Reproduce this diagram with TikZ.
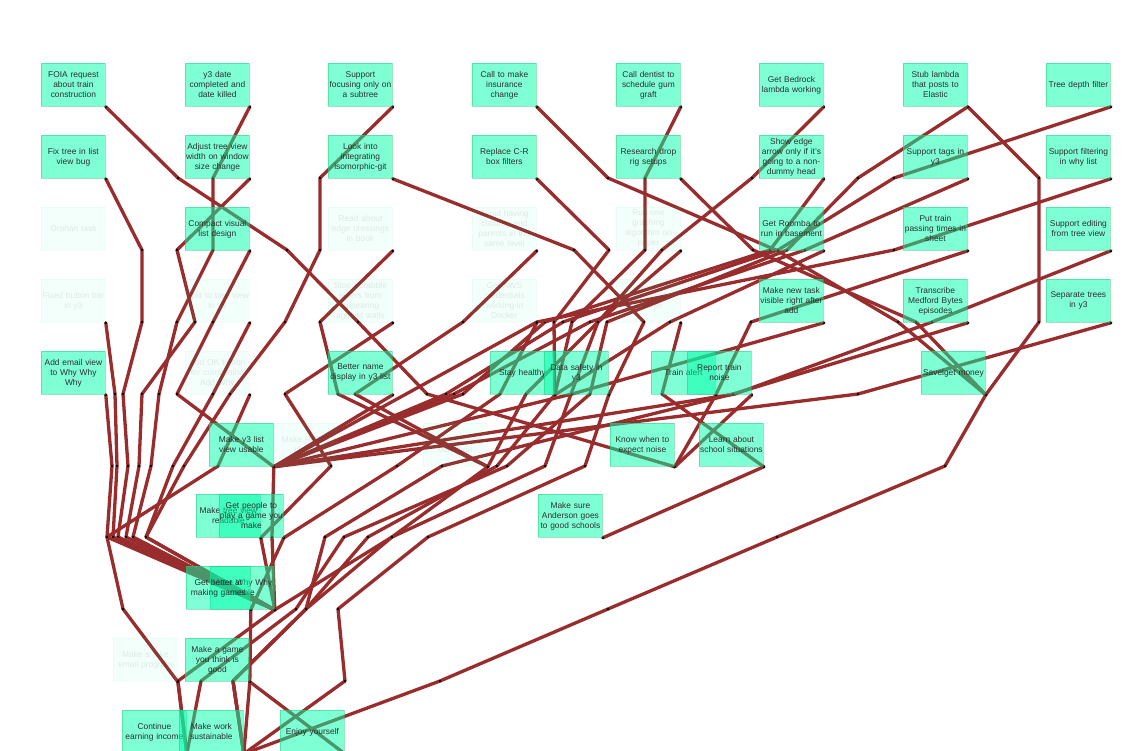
\documentclass[tikz,border=0pt]{standalone}
\usepackage{fontspec}
\setmainfont{Liberation Sans}
\pgfdeclarelayer{back}
\pgfdeclarelayer{bg}
\pgfsetlayers{back,bg,main}
\definecolor{edgec}{RGB}{153,44,44}
\definecolor{boxc}{RGB}{0,255,170}
\definecolor{boxd}{RGB}{30,200,120}
\definecolor{txt}{RGB}{45,45,45}
\tikzset{
 box/.style={anchor=north west, minimum width=64pt, minimum height=43pt, text width=72pt, inner xsep=-4pt, inner ysep=0pt, align=center, fill=boxc, fill opacity=0.5, draw=boxd, draw opacity=0.45, line width=0.8pt, text opacity=1, text=txt, font=\fontsize{8.4}{10}\selectfont},
 faded/.style={box, fill opacity=0.05, draw opacity=0.05, text opacity=0.1},
 edge/.style={draw=edgec, line width=3.3pt, line cap=round, line join=round},
}
\newcommand\edg[3]{%
 \draw[edge] (#1.south east) \foreach \x/\y in {#2}{ -- (\x,-\y) } -- (#3.south east);
 \foreach \x/\y in {#2}{\fill[black] (\x,-\y) circle[radius=1.4pt];}
 \fill[black] (#1.south east) circle[radius=1.4pt];
 \fill[black] (#3.south east) circle[radius=1.4pt];}
\newcommand\edgd[2]{%
 \draw[edge] (#1.south east) -- (#2.south east);
 \fill[black] (#1.south east) circle[radius=1.4pt];
 \fill[black] (#2.south east) circle[radius=1.4pt];}
\begin{document}
\begin{tikzpicture}[x=1pt,y=1pt]
\begin{pgfonlayer}{back}
\fill[white] (0,0) rectangle (1135,-751);
\end{pgfonlayer}
\useasboundingbox (0,0) rectangle (1135,-751);
% row 1
\node[box] (foia) at (41,-63) {FOIA request\\about train\\construction};
\node[box] (y3date) at (185,-63) {y3 date\\completed and\\date killed};
\node[box] (focus) at (328,-63) {Support\\focusing only on\\a subtree};
\node[box] (insurance) at (472,-63) {Call to make\\insurance\\change};
\node[box] (dentist) at (616,-63) {Call dentist to\\schedule gum\\graft};
\node[box] (bedrock) at (759,-63) {Get Bedrock\\lambda working};
\node[box] (stub) at (903,-63) {Stub lambda\\that posts to\\Elastic};
\node[box] (depth) at (1046,-63) {Tree depth filter};
% row 2
\node[box] (fixtree) at (41,-135) {Fix tree in list\\view bug};
\node[box] (adjust) at (185,-135) {Adjust tree view\\width on window\\size change};
\node[box] (isogit) at (328,-135) {Look into\\integrating\\isomorphic-git};
\node[box] (replacecr) at (472,-135) {Replace C-R\\box filters};
\node[box] (droprig) at (616,-135) {Research drop\\rig setups};
\node[box] (showedge) at (759,-135) {Show edge\\arrow only if it's\\going to a non-\\dummy head};
\node[box] (tags) at (903,-135) {Support tags in\\y3};
\node[box] (filtering) at (1046,-135) {Support filtering\\in why list};
% row 3
\node[faded] (orphan) at (41,-207) {Orphan task};
\node[box] (compact) at (185,-207) {Compact visual\\list design};
\node[faded] (readbook) at (328,-207) {Read about\\edge crossings\\in book};
\node[faded] (avoid) at (472,-207) {Avoid having\\children and\\parents in the\\same level};
\node[faded] (rungraph) at (616,-207) {Run one\\graphing\\algorithm on\\paper};
\node[box] (roomba) at (759,-207) {Get Roomba to\\run in basement};
\node[box] (puttrain) at (903,-207) {Put train\\passing times in\\sheet};
\node[box] (editing) at (1046,-207) {Support editing\\from tree view};
% row 4
\node[faded] (fixedbar) at (41,-279) {Fixed button bar\\in y3};
\node[faded] (splittree) at (185,-279) {Split to tree view\\in y3};
\node[faded] (scrabble) at (328,-279) {Stop Scrabble\\letters from\\appearing\\against walls};
\node[faded] (aws) at (472,-279) {Get AWS\\credentials\\working in\\Docker};
\node[faded] (getrid) at (616,-279) {Get rid of\\another};
\node[box] (newtask) at (759,-279) {Make new task\\visible right after\\add};
\node[box] (transcribe) at (903,-279) {Transcribe\\Medford Bytes\\episodes};
\node[box] (separate) at (1046,-279) {Separate trees\\in y3};
% row 5
\node[box] (addemail) at (41,-351) {Add email view\\to Why Why\\Why};
\node[faded] (addok) at (185,-351) {Add OK button\\for completing\\Add Why};
\node[box] (bettername) at (328,-351) {Better name\\display in y3 list};
\node[box] (stayhealthy) at (490,-351) {Stay healthy};
\node[box] (datasafety) at (544,-351) {Data safety in\\y3};
\node[box] (trainalert) at (651,-351) {Train alert};
\node[box] (reportnoise) at (687,-351) {Report train\\noise};
\node[box] (savemoney) at (921,-351) {Savelget money};
% row 6
\node[box] (y3usable) at (209,-423) {Make y3 list\\view usable};
\node[faded] (reddit) at (273,-423) {Make Reddit\\player};
\node[faded] (crossing) at (423,-423) {Edge crossing\\detection};
\node[box] (knowwhen) at (610,-423) {Know when to\\expect noise};
\node[box] (learnschool) at (699,-423) {Learn about\\school situations};
% row 7
\node[box] (treereadable) at (196,-494) {Make tree view\\readable};
\node[box] (getpeople) at (219,-494) {Get people to\\play a game you\\make};
\node[box] (anderson) at (538,-494) {Make sure\\Anderson goes\\to good schools};
% row 8
\node[box] (whywhy) at (210,-566) {Make Why Why\\usable};
\node[box] (betteratgames) at (186,-566) {Get better at\\making games};
% row 9
\node[faded] (fakeemail) at (113,-638) {Make a fake\\email program};
\node[box] (makegame) at (185,-638) {Make a game\\you think is\\good};
% row 10
\node[box] (continue) at (122,-710) {Continue\\earning income};
\node[box] (sustainable) at (179,-710) {Make work\\sustainable};
\node[box] (enjoy) at (280,-710) {Enjoy yourself};
\begin{pgfonlayer}{bg}
\edg{foia}{178/178,287/250,358/322,427/394}{knowwhen}
\edg{y3date}{213/178,213/250,177/322,159/394,151/466,133/537}{whywhy}
\edg{fixtree}{142/250,142/322,123/394,128/466,118/537}{whywhy}
\edg{adjust}{177/250,195/322,142/394,139/466,126/537}{whywhy}
\edg{compact}{213/322,177/394}{y3usable}
\edg{fixedbar}{115/394,117/466,113/537}{whywhy}
\edg{splittree}{213/394,173/466,146/537}{whywhy}
\edg{addemail}{112/466,107/537,123/609}{fakeemail}
\edg{addok}{218/466,107/537}{whywhy}
\edg{focus}{320/178,320/250,285/322,230/394,184/466,146/537}{whywhy}
\edg{isogit}{574/250,644/322}{datasafety}
\edg{datasafety}{585/466,428/537,338/609,345/681}{sustainable}
\edg{insurance}{608/178,776/250,898/322}{savemoney}
\edg{replacecr}{609/250,554/322}{stayhealthy}
\edg{dentist}{645/178,645/250,572/322}{stayhealthy}
\edg{droprig}{753/250,916/322}{savemoney}
\edg{bedrock}{752/178,662/250,598/322,571/394,545/466,392/537,306/609,233/681}{sustainable}
\edg{stub}{1039/178,1039/322}{savemoney}
\edg{stub}{858/178,787/250,607/322,590/394,507/466,344/537,296/609,201/681}{continue}
\edg{depth}{894/178,778/250,563/322,446/394}{y3usable}
\edg{showedge}{770/250,545/322,463/394}{y3usable}
\edg{tags}{805/250,590/322,454/394}{y3usable}
\edg{filtering}{894/250,537/322}{y3usable}
\edg{editing}{932/322,735/394}{y3usable}
\edg{separate}{858/394}{y3usable}
\edg{puttrain}{751/322}{trainalert}
\edg{transcribe}{733/394,442/466,325/537,306/609,233/681}{sustainable}
\edg{roomba}{670/322}{stayhealthy}
\edg{newtask}{572/394}{y3usable}
\edgd{bettername}{y3usable}
\edg{stayhealthy}{497/466,368/537,306/609,233/681}{sustainable}
\edgd{trainalert}{knowwhen}
\edgd{reportnoise}{knowwhen}
\edg{getrid}{662/394}{learnschool}
\edg{savemoney}{945/466,777/537,608/609,440/681}{sustainable}
\edgd{learnschool}{anderson}
\edg{y3usable}{272/537}{whywhy}
\edgd{treereadable}{whywhy}
\edgd{getpeople}{betteratgames}
\edgd{betteratgames}{makegame}
\edg{whywhy}{178/681}{continue}
\edgd{fakeemail}{continue}
\edgd{makegame}{enjoy}
\edgd{makegame}{sustainable}
\edg{readbook}{320/322,338/394}{crossing}
\edg{avoid}{463/322,355/394}{crossing}
\edg{rungraph}{598/322,526/394}{crossing}
\edg{crossing}{392/537}{whywhy}
\edg{scrabble}{285/394,331/466}{treereadable}
\edg{aws}{500/394,397/466}{getpeople}
\end{pgfonlayer}
\end{tikzpicture}
\end{document}
